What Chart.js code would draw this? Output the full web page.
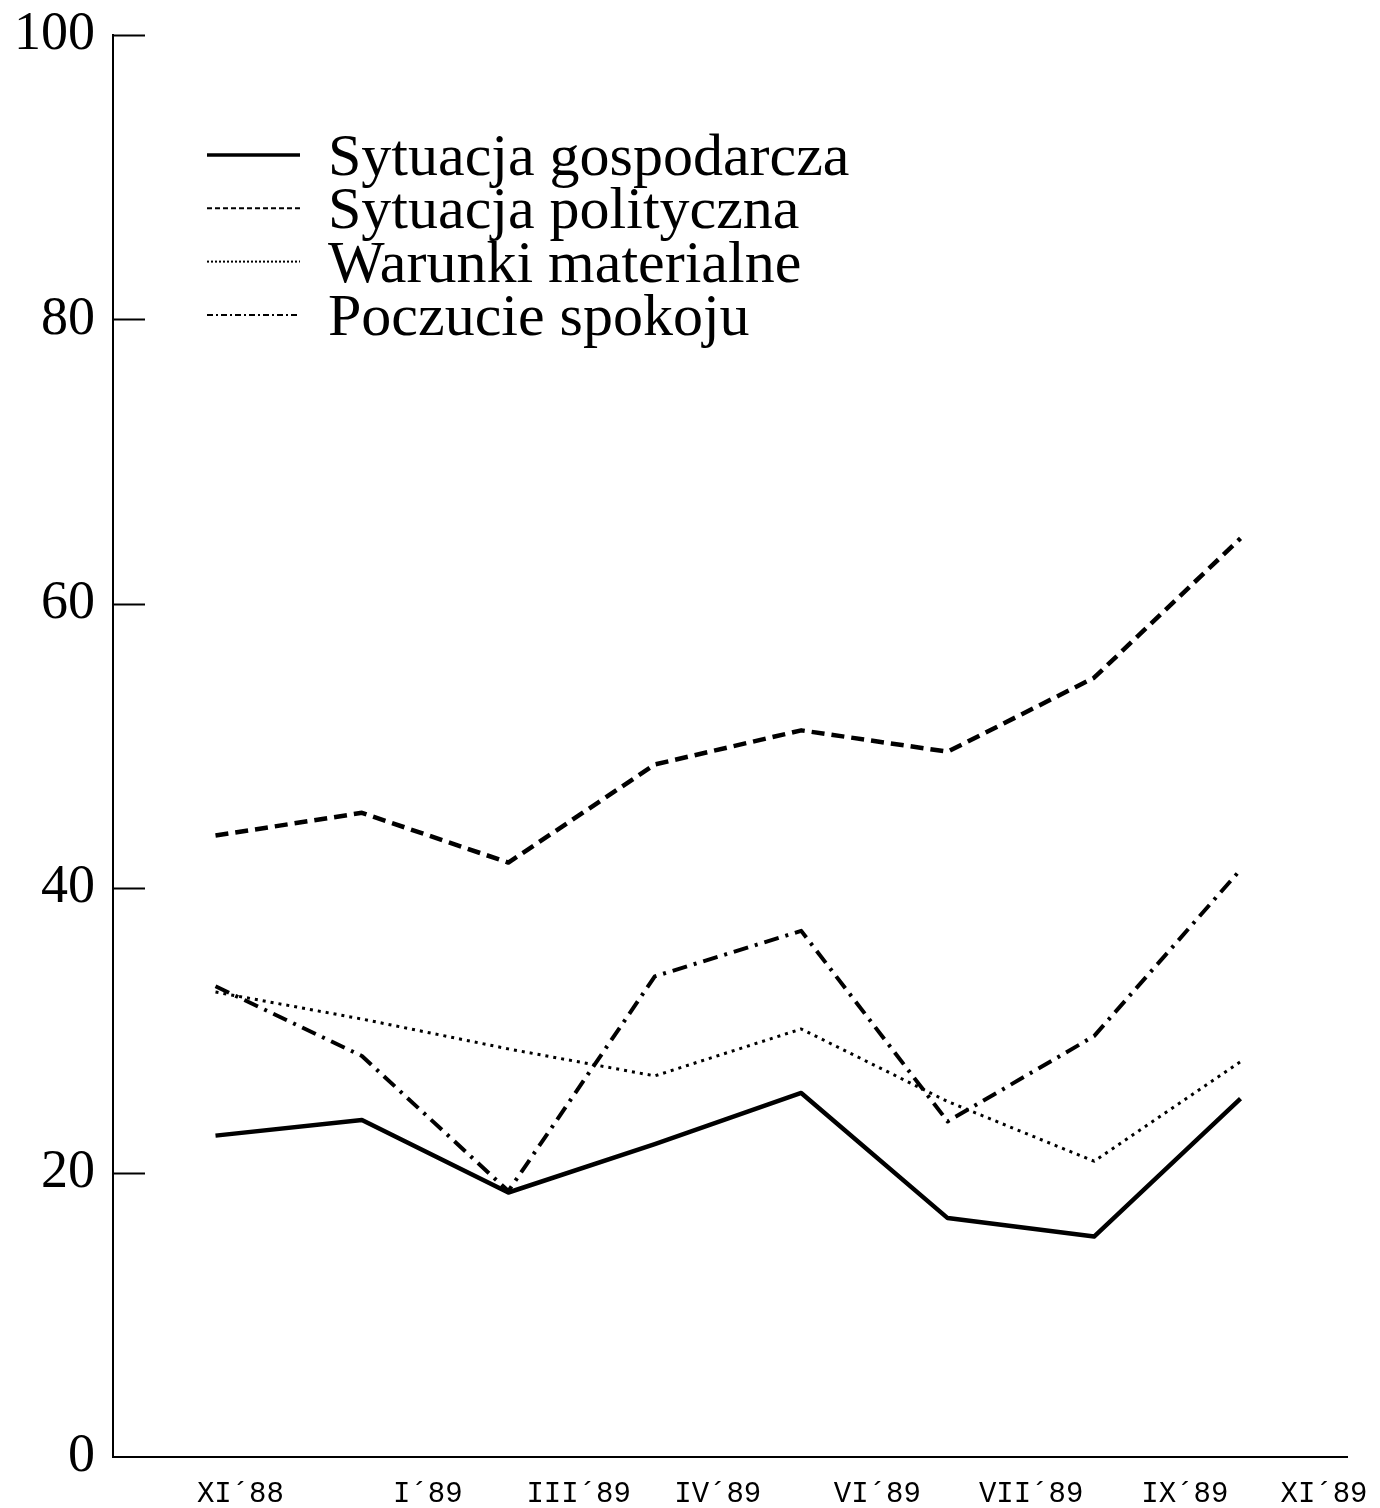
<!DOCTYPE html>
<html>
<head>
<meta charset="utf-8">
<script src="https://cdn.jsdelivr.net/npm/chart.js@4/dist/chart.umd.min.js"></script>
<style>
    html, body { margin: 0; padding: 0; background: #fff; }
    #wrap { position: relative; width: 1380px; height: 1508px; }
</style>
</head>
<body>
<div id="wrap"><canvas id="moodChart"></canvas></div>
<script>
// Survey months (one per point) and where their labels sit on the x axis
const months = ['XI´88', 'I´89', 'III´89', 'IV´89', 'VI´89', 'VII´89', 'IX´89', 'XI´89'];
const monthTickAt = [0.17, 1.45, 2.48, 3.43, 4.52, 5.57, 6.62, 7.57];

// Series values (%)
const gospodarcza = [22.6, 23.7, 18.6, 22.0, 25.6, 16.8, 15.5, 25.2];
const polityczna = [43.7, 45.3, 41.8, 48.7, 51.1, 49.6, 54.8, 64.6];
const warunki = [32.7, 30.8, 28.7, 26.8, 30.1, 25.0, 20.8, 27.8];
const spokoj = [33.1, 28.2, 18.7, 33.8, 37.0, 23.6, 29.6, 41.3];

const seriesNames = ['Sytuacja gospodarcza', 'Sytuacja polityczna', 'Warunki materialne', 'Poczucie spokoju'];

// y axis ticks
const yTicks = [0, 20, 40, 60, 80, 100];

function toPoints(values) {
    return values.map((v, i) => ({ x: i, y: v }));
}

// Line styles: plot line + smaller legend sample
const styles = [
    { width: 4.5, dash: [], legendWidth: 3.5, legendDash: [] },
    { width: 4.5, dash: [13, 7], legendWidth: 2, legendDash: [5, 3] },
    { width: 3, dash: [3, 5], legendWidth: 2, legendDash: [2, 2] },
    { width: 4, dash: [15, 7, 3, 7], legendWidth: 2, legendDash: [6, 3, 2, 3] },
];

// Inward tick marks on the y axis
const inwardTicks = {
    id: 'inwardTicks',
    afterDraw(chart) {
        const ctx = chart.ctx;
        const y = chart.scales.y;
        ctx.save();
        ctx.strokeStyle = '#000';
        ctx.lineWidth = 2;
        yTicks.forEach((t) => {
            if (t === 0) return;
            const py = Math.round(y.getPixelForValue(t)) + 0.5;
            ctx.beginPath();
            ctx.moveTo(y.right, py);
            ctx.lineTo(y.right + 32, py);
            ctx.stroke();
        });
        ctx.restore();
    },
};

// Legend drawn inside the plot, top left
const plotLegend = {
    id: 'plotLegend',
    afterDraw(chart) {
        const ctx = chart.ctx;
        const area = chart.chartArea;
        const x0 = area.left + 94;
        const x1 = area.left + 187;
        const textX = area.left + 215;
        const firstY = area.top + 120;
        const step = 53.3;
        ctx.save();
        ctx.fillStyle = '#000';
        ctx.strokeStyle = '#000';
        ctx.font = '60px "Liberation Serif", serif';
        ctx.textBaseline = 'alphabetic';
        chart.data.datasets.forEach((ds, i) => {
            const cy = firstY + i * step;
            ctx.lineWidth = styles[i].legendWidth;
            ctx.setLineDash(styles[i].legendDash);
            ctx.beginPath();
            ctx.moveTo(x0, cy);
            ctx.lineTo(x1, cy);
            ctx.stroke();
            ctx.setLineDash([]);
            ctx.fillText(ds.label, textX, cy + 20);
        });
        ctx.restore();
    },
};

function initChart() {
    const canvas = document.getElementById('moodChart');
    const seriesValues = [gospodarcza, polityczna, warunki, spokoj];

    const datasets = seriesValues.map((values, i) => ({
        label: seriesNames[i],
        data: toPoints(values),
        borderColor: '#000',
        borderWidth: styles[i].width,
        borderDash: styles[i].dash,
        borderCapStyle: 'butt',
        borderJoinStyle: 'round',
        pointRadius: 0,
        tension: 0,
        fill: false,
    }));

    new Chart(canvas, {
        type: 'line',
        data: { datasets },
        options: {
            responsive: true,
            maintainAspectRatio: false,
            animation: false,
            layout: {
                padding: { top: 35, right: 27, left: 0, bottom: 0 },
            },
            plugins: {
                legend: { display: false },
                tooltip: { enabled: false },
            },
            scales: {
                x: {
                    type: 'linear',
                    min: -0.7,
                    max: 7.73,
                    grid: { display: false },
                    border: { display: true, color: '#000', width: 2 },
                    afterBuildTicks: (scale) => {
                        scale.ticks = monthTickAt.map((v) => ({ value: v }));
                    },
                    afterFit: (scale) => {
                        scale.height = 51;
                    },
                    ticks: {
                        autoSkip: false,
                        maxRotation: 0,
                        padding: 12,
                        color: '#000',
                        font: { family: '"Liberation Mono", monospace', size: 29 },
                        callback: (value, index) => months[index],
                    },
                },
                y: {
                    min: 0,
                    max: 100,
                    grid: { display: false },
                    border: { display: true, color: '#000', width: 2 },
                    afterBuildTicks: (scale) => {
                        scale.ticks = yTicks.map((v) => ({ value: v }));
                    },
                    afterFit: (scale) => {
                        scale.width = 113;
                        scale.paddingTop = 0;
                        scale.paddingBottom = 0;
                    },
                    ticks: {
                        padding: 10,
                        color: '#000',
                        font: { family: '"Liberation Serif", serif', size: 54 },
                    },
                },
            },
        },
        plugins: [inwardTicks, plotLegend],
    });
}

document.addEventListener('DOMContentLoaded', initChart);
</script>
</body>
</html>
